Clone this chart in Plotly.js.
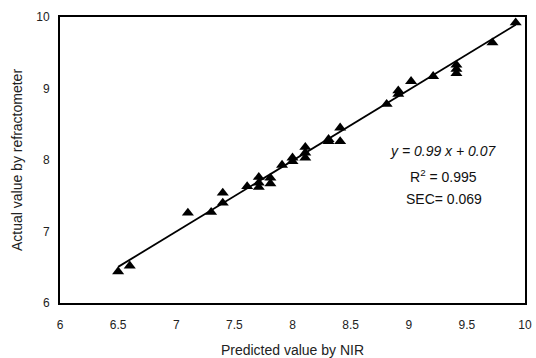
<!DOCTYPE html>
<html>
<head>
<meta charset="utf-8">
<script src="https://cdn.plot.ly/plotly-3.0.1.min.js"></script>
<style>html,body{margin:0;padding:0;background:#fff;}#chart{width:536px;height:358px;}</style>
</head>
<body>
<div id="chart"></div>
<script>
// Predicted value by NIR (x) and actual value by refractometer (y)
const predicted = [6.50, 6.60, 7.10, 7.30, 7.40, 7.40, 7.61, 7.71, 7.71, 7.71, 7.81, 7.81, 7.91, 8.00, 8.00,
                   8.11, 8.11, 8.11, 8.31, 8.31, 8.41, 8.41, 8.81, 8.91, 8.91, 9.02, 9.21, 9.41, 9.41, 9.41, 9.72, 9.92];
const actual    = [6.44, 6.52, 7.26, 7.27, 7.40, 7.54, 7.63, 7.62, 7.68, 7.76, 7.67, 7.75, 7.93, 7.98, 8.03,
                   8.03, 8.10, 8.18, 8.26, 8.29, 8.26, 8.45, 8.78, 8.92, 8.97, 9.10, 9.17, 9.21, 9.27, 9.33, 9.64, 9.92];
const fitSlope = [0.99];
const fitIntercept = [0.07];
const statLabels = ["<i>y = 0.99 x + 0.07</i>", "R<sup>2</sup> = 0.995", "SEC= 0.069"];
const xTickVals = [6, 6.5, 7, 7.5, 8, 8.5, 9, 9.5, 10];
const yTickVals = [6, 7, 8, 9, 10];

const xMin = Math.min(...predicted), xMax = Math.max(...predicted);
const lineX = [xMin, xMax];
const lineY = lineX.map(v => fitSlope[0] * v + fitIntercept[0]);

const font = "Liberation Sans, Arial, sans-serif";
const data = [
  {x: lineX, y: lineY, mode: 'lines', line: {color: '#000', width: 1.8}, hoverinfo: 'skip', showlegend: false},
  {x: predicted, y: actual, mode: 'markers', type: 'scatter',
   marker: {symbol: 'triangle-up', size: 10.5, color: '#000'}, showlegend: false}
];
const layout = {
  width: 536, height: 358,
  margin: {l: 60, r: 11, t: 17, b: 55},
  paper_bgcolor: '#fff', plot_bgcolor: '#fff',
  font: {family: font, size: 12, color: '#222'},
  xaxis: {range: [6, 10], tickvals: xTickVals, ticktext: xTickVals.map(String), showgrid: false, zeroline: false,
          showline: true, mirror: true, linecolor: '#000', linewidth: 2, ticks: '',
          ticklabelstandoff: 10,
          tickfont: {size: 12, color: '#222'},
          title: {text: 'Predicted value by NIR', font: {size: 14, color: '#222'}, standoff: 14}},
  yaxis: {range: [6, 10], tickvals: yTickVals, ticktext: yTickVals.map(String), showgrid: false, zeroline: false,
          showline: true, mirror: true, linecolor: '#000', linewidth: 2, ticks: '',
          ticklabelstandoff: 6,
          tickfont: {size: 12, color: '#222'},
          title: {text: 'Actual value by refractometer', font: {size: 14, color: '#222'}, standoff: 10}},
  annotations: [
    {x: 9.3, y: 8.13, xref: 'x', yref: 'y', text: statLabels[0], showarrow: false, font: {size: 14, color: '#111'}},
    {x: 9.3, y: 7.78, xref: 'x', yref: 'y', text: statLabels[1], showarrow: false, font: {size: 14, color: '#111'}},
    {x: 9.3, y: 7.46, xref: 'x', yref: 'y', text: statLabels[2], showarrow: false, font: {size: 14, color: '#111'}}
  ]
};
Plotly.newPlot('chart', data, layout, {displayModeBar: false, staticPlot: true});
</script>
</body>
</html>
